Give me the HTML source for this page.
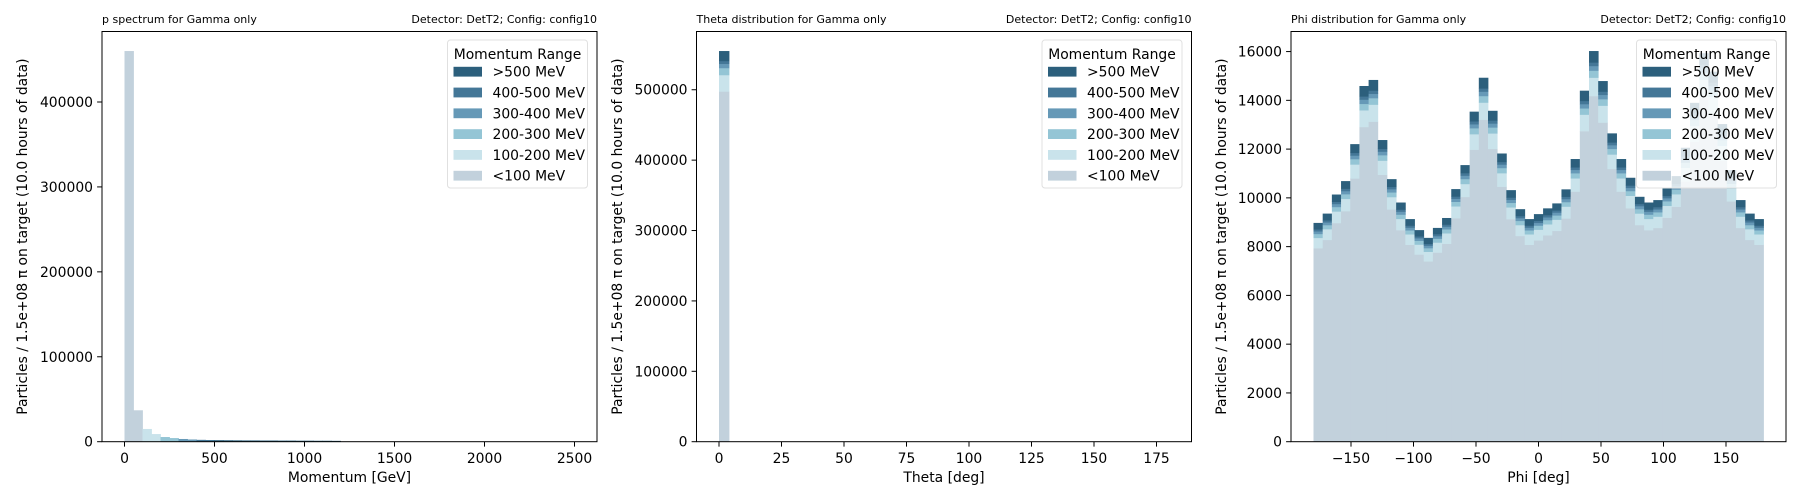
<!DOCTYPE html>
<html><head><meta charset="utf-8"><style>
html,body{margin:0;padding:0;background:#fff;}
svg{display:block;font-family:"DejaVu Sans","Liberation Sans",sans-serif;}
</style></head><body>
<svg id="chart" width="1800" height="500" viewBox="0 0 1800 500" xmlns="http://www.w3.org/2000/svg"></svg>
<script>
// ---------- data ----------
const seriesNames = [">500 MeV","400-500 MeV","300-400 MeV","200-300 MeV","100-200 MeV","<100 MeV"];
const seriesColors = ["#2c5f7c","#447797","#6699b7","#94c5d5","#c9e3eb","#c2d1dc"];

// Panel 1: momentum histogram, bins of 50 from 0 to 2500
const p1Edges = [0,2500,50];
const p1Lt100 = [460000,37000];
const p1R100 = [0,0,15000,9000];
const p1R200 = [0,0,0,0,5500,4300];
const p1R300 = [0,0,0,0,0,0,3200,2600];
const p1R400 = [0,0,0,0,0,0,0,0,2200,2000];
const p1Gt500 = [0,0,0,0,0,0,0,0,0,0,1800,1700,1600,1500,1500,1400,1400,1300,1300,1200,1200,1100,1100,1000];
const p1XTicks = [0,500,1000,1500,2000,2500];
const p1YTicks = [0,100000,200000,300000,400000];

// Panel 2: theta histogram, bins of 4 deg from 0 to 180
const p2Edges = [0,180,4];
const p2Lt100 = [497600];
const p2R100 = [23400];
const p2R200 = [10000];
const p2R300 = [6000];
const p2R400 = [4000];
const p2Gt500 = [14000];
const p2XTicks = [0,25,50,75,100,125,150,175];
const p2YTicks = [0,100000,200000,300000,400000,500000];

// Panel 3: phi histogram, 49 bins from -180 to 180
const p3Edges = [-180,180,49];
const p3Lt100 = [7940,8280,8970,9460,10800,12910,13130,10950,9530,8680,8080,7680,7400,7760,8120,9170,10040,11980,13210,12010,10460,9130,8440,8080,8260,8470,8650,9160,10260,12740,14180,13090,11190,10260,9580,8890,8680,8770,9190,9640,10670,12300,14100,13430,11530,9860,8770,8280,8080];
const p3R100 = [422,440,477,502,574,686,697,581,506,461,429,408,393,412,431,487,533,636,702,638,556,485,448,429,439,450,459,486,545,677,753,695,594,545,509,472,461,466,488,512,566,653,749,713,612,523,466,440,429];
const p3R200 = [162,168,183,192,220,263,267,223,194,177,164,156,150,158,165,186,204,244,269,244,213,186,172,164,168,172,176,186,209,259,288,266,228,209,195,181,177,178,187,196,217,250,287,273,234,200,178,168,164];
const p3R300 = [108,112,122,128,146,175,178,148,129,118,110,104,100,105,110,124,136,162,179,163,142,124,114,110,112,115,117,124,139,173,192,178,152,139,130,120,118,119,125,131,145,167,191,182,156,134,119,112,110];
const p3R400 = [81,84,91,96,110,131,134,111,97,88,82,78,75,79,83,93,102,122,134,122,106,93,86,82,84,86,88,93,104,130,144,133,114,104,97,90,88,89,93,98,108,125,143,137,117,100,89,84,82];
const p3Gt500 = [260,271,294,310,354,423,430,359,312,285,265,252,242,254,266,300,329,392,433,394,343,299,277,265,271,277,283,300,336,417,465,429,367,336,314,291,285,287,301,316,350,403,462,440,378,323,287,271,265];
const p3XTicks = [-150,-100,-50,0,50,100,150];
const p3YTicks = [0,2000,4000,6000,8000,10000,12000,14000,16000];

// ---------- drawing ----------
const NS = "http://www.w3.org/2000/svg";
const svg = document.getElementById("chart");
function mk(tag, attrs, parent){
  const e = document.createElementNS(NS, tag);
  for (const k in attrs) e.setAttribute(k, attrs[k]);
  (parent||svg).appendChild(e);
  return e;
}
const TOP = 31.5, BOT = 441.7;

function drawPanel(cfg){
  const g = mk("g", {});
  
  
  const L = cfg.left, R = cfg.right;
  let lo = cfg.edges[0], hi = cfg.edges[1], binW, nb;
  if (cfg.binsByCount){ nb = cfg.edges[2]; binW = (hi-lo)/nb; } else { binW = cfg.edges[2]; nb = Math.round((hi-lo)/binW); }
  const span = hi - lo, xmin = lo - 0.05*span, xmax = hi + 0.05*span;
  const layers = cfg.layers;
  let maxT = 0;
  for (let i=0;i<nb;i++){ let t=0; layers.forEach(a=>{t+=(a[i]||0);}); maxT=Math.max(maxT,t); }
  const ymax = maxT*1.05;
  const xs = v => L + (v - xmin)/(xmax - xmin)*(R-L);
  const ys = v => BOT - v/ymax*(BOT-TOP);
  const colorsBottomUp = seriesColors.slice().reverse();
  const namesBottomUp = seriesNames.slice().reverse();
  for (let i=0;i<nb;i++){
    let base = 0;
    layers.forEach((arr, li)=>{
      const v = arr[i]||0;
      if (v>0){
        const x0 = xs(lo + i*binW), x1 = xs(lo+(i+1)*binW);
        const r = mk("rect", {x:x0, y:ys(base+v), width:(x1-x0)+0.4, height:ys(base)-ys(base+v)+0.3, fill:colorsBottomUp[li]}, g);
        
        
      }
      base += v;
    });
  }
  const fr = mk("rect", {x:L, y:TOP, width:R-L, height:BOT-TOP, fill:"none", stroke:"#000", "stroke-width":1}, g);
  
  
  cfg.xticks.forEach(t=>{
    const x = xs(t);
    mk("line", {x1:x, y1:BOT, x2:x, y2:BOT+4.9, stroke:"#000", "stroke-width":1}, g);
    const tx = mk("text", {x:x, y:463, "font-size":"13.9", "text-anchor":"middle", fill:"#000"}, g);
    tx.textContent = String(t).replace("-", "\u2212");
    
    
  });
  cfg.yticks.forEach(t=>{
    const y = ys(t);
    mk("line", {x1:L-4.9, y1:y, x2:L, y2:y, stroke:"#000", "stroke-width":1}, g);
    const tx = mk("text", {x:L-9, y:y+5, "font-size":"13.9", "text-anchor":"end", fill:"#000"}, g);
    tx.textContent = String(t);
    
    
  });
  const xl = mk("text", {x:(L+R)/2, y:482, "font-size":"13.9", "text-anchor":"middle", fill:"#000"}, g);
  xl.textContent = cfg.xlabel;
  
  
  const yx = cfg.ylabelX, yc = (TOP+BOT)/2;
  const yl = mk("text", {x:yx, y:yc, "font-size":"13.9", "text-anchor":"middle", transform:`rotate(-90 ${yx} ${yc})`, fill:"#000"}, g);
  yl.textContent = "Particles / 1.5e+08 \u03c0 on target (10.0 hours of data)";
  
  
  const t1 = mk("text", {x:L, y:23, "font-size":"11", fill:"#000"}, g);
  t1.textContent = cfg.title;
  
  
  const t2 = mk("text", {x:R, y:23, "font-size":"11", "text-anchor":"end", fill:"#000"}, g);
  t2.textContent = "Detector: DetT2; Config: config10";
  
  
  const lg = mk("g", {}, g);
  
  
  const lx = R - 149.5, ly = 40;
  mk("rect", {x:lx, y:ly, width:140, height:148, rx:3, fill:"rgba(255,255,255,0.8)", stroke:"#e0e0e0", "stroke-width":1}, lg);
  const lt = mk("text", {x:lx+70, y:ly+19, "font-size":"13.9", "text-anchor":"middle", fill:"#000"}, lg);
  lt.textContent = "Momentum Range";
  
  
  seriesNames.forEach((n, k)=>{
    const cy = 71.7 + k*20.8;
    const e = mk("g", {}, lg);
    
    
    mk("rect", {x:lx+6, y:cy-4.9, width:28.5, height:9.8, fill:seriesColors[k]}, e);
    const et = mk("text", {x:lx+45, y:cy+5, "font-size":"13.9", fill:"#000"}, e);
    et.textContent = n;
  });
}

drawPanel({name:"momentum-panel", left:102, right:597, edges:p1Edges, binsByCount:false,
  layers:[p1Lt100,p1R100,p1R200,p1R300,p1R400,p1Gt500], xticks:p1XTicks, yticks:p1YTicks,
  xlabel:"Momentum [GeV]", ylabelX:27, title:"p spectrum for Gamma only"});
drawPanel({name:"theta-panel", left:696.5, right:1191.5, edges:p2Edges, binsByCount:false,
  layers:[p2Lt100,p2R100,p2R200,p2R300,p2R400,p2Gt500], xticks:p2XTicks, yticks:p2YTicks,
  xlabel:"Theta [deg]", ylabelX:622, title:"Theta distribution for Gamma only"});
drawPanel({name:"phi-panel", left:1291, right:1786, edges:p3Edges, binsByCount:true,
  layers:[p3Lt100,p3R100,p3R200,p3R300,p3R400,p3Gt500], xticks:p3XTicks, yticks:p3YTicks,
  xlabel:"Phi [deg]", ylabelX:1226, title:"Phi distribution for Gamma only"});
</script>
</body></html>
